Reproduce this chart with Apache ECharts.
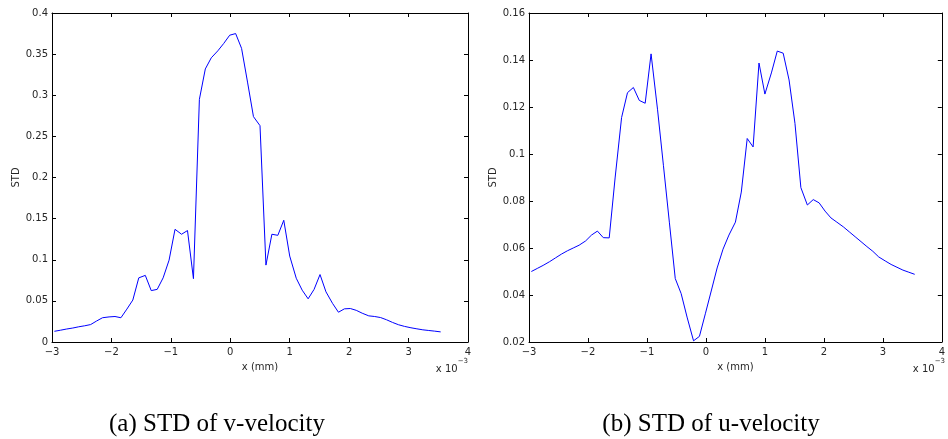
<!DOCTYPE html>
<html>
<head>
<meta charset="utf-8">
<title>STD of velocity</title>
<script src="https://cdn.jsdelivr.net/npm/echarts@6/dist/echarts.min.js"></script>
<style>
  html, body { margin: 0; padding: 0; background: #ffffff; }
  #chart { width: 948px; height: 439px; }
</style>
</head>
<body>
<div id="chart"></div>
<script>
// Sample positions along x, in units of 1e-3 mm
const xPos = [
  -2.96, -2.86, -2.76, -2.65, -2.55, -2.45, -2.35, -2.25, -2.15, -2.04,
  -1.94, -1.84, -1.74, -1.64, -1.54, -1.43, -1.33, -1.23, -1.13, -1.03,
  -0.93, -0.82, -0.72, -0.62, -0.52, -0.42, -0.32, -0.21, -0.11, -0.01,
   0.09,  0.19,  0.29,  0.39,  0.50,  0.60,  0.70,  0.80,  0.90,  1.00,
   1.11,  1.21,  1.31,  1.41,  1.51,  1.61,  1.72,  1.82,  1.92,  2.02,
   2.12,  2.22,  2.33,  2.43,  2.53,  2.63,  2.73,  2.83,  2.93,  3.04,
   3.14,  3.24,  3.34,  3.44,  3.54
];

// STD of v-velocity
const stdV = [
  0.0130, 0.0143, 0.0157, 0.0170, 0.0185, 0.0197, 0.0212, 0.0255, 0.0295, 0.0305,
  0.0310, 0.0295, 0.0400, 0.0510, 0.0780, 0.0810, 0.0625, 0.0640, 0.0780, 0.0995,
  0.1370, 0.1310, 0.1355, 0.0770, 0.2950, 0.3320, 0.3455, 0.3540, 0.3630, 0.3730,
  0.3750, 0.3570, 0.3160, 0.2740, 0.2630, 0.0935, 0.1310, 0.1297, 0.1480, 0.1045,
  0.0775, 0.0630, 0.0525, 0.0640, 0.0820, 0.0610, 0.0470, 0.0362, 0.0403, 0.0407,
  0.0385, 0.0350, 0.0318, 0.0310, 0.0297, 0.0270, 0.0238, 0.0210, 0.0190, 0.0173,
  0.0160, 0.0148, 0.0140, 0.0132, 0.0123
];

// STD of u-velocity
const stdU = [
  0.0500, 0.0513, 0.0526, 0.0542, 0.0558, 0.0574, 0.0588, 0.0600, 0.0612, 0.0630,
  0.0655, 0.0672, 0.0644, 0.0643, 0.0898, 0.1155, 0.1261, 0.1283, 0.1228, 0.1216,
  0.1426, 0.1188, 0.0950, 0.0710, 0.0470, 0.0406, 0.0306, 0.0205, 0.0224, 0.0320,
  0.0417, 0.0515, 0.0595, 0.0655, 0.0710, 0.0838, 0.1066, 0.1030, 0.1387, 0.1255,
  0.1345, 0.1438, 0.1429, 0.1315, 0.1130, 0.0857, 0.0783, 0.0806, 0.0792, 0.0757,
  0.0728, 0.0710, 0.0690, 0.0669, 0.0648, 0.0627, 0.0606, 0.0586, 0.0562, 0.0545,
  0.0530, 0.0518, 0.0506, 0.0497, 0.0488
];

// Axis ranges and tick spacing
const xRange = { min: -3, max: 4, interval: 1 };
const vRange = { min: 0, max: 0.4, interval: 0.05 };
const uRange = { min: 0.02, max: 0.16, interval: 0.02 };

const captions = ['(a) STD of v-velocity', '(b) STD of u-velocity'];
const xTitle = 'x (mm)';
const yTitle = 'STD';

const LABEL_FONT = 'DejaVu Sans, Liberation Sans, Arial, sans-serif';
const AXIS_COLOR = '#000000';
const TEXT_COLOR = '#262626';

function pairs(xs, ys) {
  return xs.map((x, i) => [x, ys[i]]);
}

function fmtTick(v) {
  const s = String(+v.toFixed(4));
  return s.charAt(0) === '-' ? '\u2212' + s.slice(1) : s;
}

function xAxes(gridIndex) {
  const common = {
    type: 'value', gridIndex,
    min: xRange.min, max: xRange.max, interval: xRange.interval,
    splitLine: { show: false },
    axisLine: { show: true, onZero: false, lineStyle: { color: AXIS_COLOR, width: 1 } },
    axisTick: { show: true, inside: true, length: 4, lineStyle: { color: AXIS_COLOR } }
  };
  return [
    Object.assign({}, common, {
      position: 'bottom',
      name: xTitle, nameLocation: 'middle', nameGap: 20,
      nameTextStyle: { fontFamily: LABEL_FONT, fontSize: 10, color: TEXT_COLOR },
      axisLabel: { margin: 5, fontFamily: LABEL_FONT, fontSize: 10, color: TEXT_COLOR, formatter: fmtTick }
    }),
    Object.assign({}, common, { position: 'top', axisLabel: { show: false } })
  ];
}

function yAxes(gridIndex, range) {
  const common = {
    type: 'value', gridIndex,
    min: range.min, max: range.max, interval: range.interval,
    splitLine: { show: false },
    axisLine: { show: true, onZero: false, lineStyle: { color: AXIS_COLOR, width: 1 } },
    axisTick: { show: true, inside: true, length: 4, lineStyle: { color: AXIS_COLOR } }
  };
  return [
    Object.assign({}, common, {
      position: 'left',
      name: yTitle, nameLocation: 'middle', nameGap: 29,
      nameTextStyle: { fontFamily: LABEL_FONT, fontSize: 10, color: TEXT_COLOR },
      axisLabel: { margin: 4, fontFamily: LABEL_FONT, fontSize: 10, color: TEXT_COLOR, formatter: fmtTick }
    }),
    Object.assign({}, common, { position: 'right', axisLabel: { show: false } })
  ];
}

function exponentLabel(right) {
  return {
    type: 'text', right: right, top: 358,
    style: {
      text: '{b|x 10}{s|\u22123}',
      rich: {
        b: { fontFamily: LABEL_FONT, fontSize: 10, fill: TEXT_COLOR, verticalAlign: 'bottom', padding: [6, 0, 0, 0] },
        s: { fontFamily: LABEL_FONT, fontSize: 7, fill: TEXT_COLOR, verticalAlign: 'top' }
      }
    }
  };
}

function caption(text, cx) {
  return {
    type: 'text', x: cx, y: 424,
    style: {
      text: text, textAlign: 'center', textVerticalAlign: 'middle',
      fontFamily: 'Liberation Serif, DejaVu Serif, serif', fontSize: 25, fill: '#000000'
    }
  };
}

const chart = echarts.init(document.getElementById('chart'), null, { renderer: 'canvas' });

chart.setOption({
  animation: false,
  backgroundColor: '#ffffff',
  grid: [
    { left: 52, top: 13, width: 416, height: 329 },
    { left: 529, top: 13, width: 416, height: 329 }
  ],
  xAxis: xAxes(0).concat(xAxes(1)),
  yAxis: yAxes(0, vRange).concat(yAxes(1, uRange)),
  series: [
    {
      type: 'line', xAxisIndex: 0, yAxisIndex: 0,
      data: pairs(xPos, stdV), symbol: 'none',
      lineStyle: { color: '#0000ff', width: 1 }
    },
    {
      type: 'line', xAxisIndex: 2, yAxisIndex: 2,
      data: pairs(xPos, stdU), symbol: 'none',
      lineStyle: { color: '#0000ff', width: 1 }
    }
  ],
  graphic: [
    exponentLabel(480),
    exponentLabel(3),
    caption(captions[0], 217),
    caption(captions[1], 711)
  ]
});
</script>
</body>
</html>
